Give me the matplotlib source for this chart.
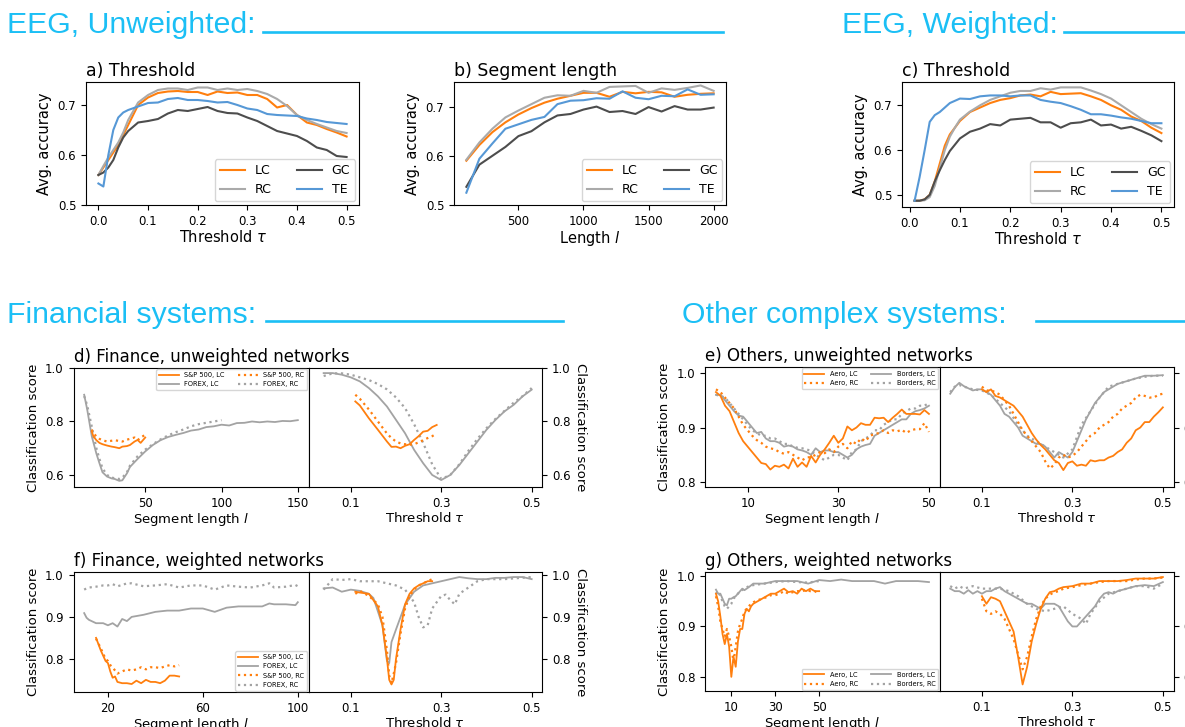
import matplotlib
matplotlib.use('Agg')
import matplotlib.pyplot as plt
from matplotlib.lines import Line2D

# ---------------- data: EEG ----------------
tau_a = [0, .01, .02, .03, .04, .05, .06, .08, .10, .12, .14, .16, .18, .20, .22, .24,
         .26, .28, .30, .32, .34, .36, .38, .40, .42, .44, .46, .48, .50]
a_lc = [.560, .575, .590, .605, .620, .640, .660, .700, .715, .724, .727, .728, .726, .726, .720,
        .727, .724, .725, .720, .720, .712, .695, .700, .680, .665, .660, .652, .645, .637]
a_rc = [.560, .578, .595, .610, .625, .645, .670, .705, .720, .730, .733, .733, .730, .735, .735,
        .730, .733, .730, .732, .728, .722, .712, .698, .680, .670, .662, .655, .648, .644]
a_gc = [.560, .565, .575, .590, .615, .635, .648, .665, .668, .672, .683, .690, .688, .692, .696,
        .688, .684, .683, .675, .668, .658, .648, .643, .638, .628, .615, .610, .598, .596]
a_te = [.543, .537, .600, .650, .675, .685, .690, .697, .704, .705, .712, .714, .710, .710, .708,
        .705, .706, .700, .693, .690, .682, .680, .679, .678, .673, .670, .666, .664, .662]

len_b = [100, 200, 300, 400, 500, 600, 700, 800, 900, 1000, 1100, 1200, 1300, 1400, 1500,
         1600, 1700, 1800, 1900, 2000]
b_lc = [.590, .622, .648, .668, .684, .697, .708, .716, .722, .728, .728, .720, .730, .727, .730,
        .729, .720, .724, .726, .727]
b_rc = [.592, .627, .655, .678, .692, .705, .718, .723, .722, .732, .728, .740, .741, .742, .728,
        .737, .734, .738, .743, .732]
b_gc = [.537, .582, .600, .618, .640, .650, .668, .682, .685, .694, .700, .689, .691, .685, .699,
        .690, .701, .694, .694, .698]
b_te = [.525, .594, .625, .655, .664, .673, .679, .705, .712, .713, .717, .716, .731, .718, .715,
        .722, .721, .735, .724, .725]

tau_c = [.01, .02, .03, .04, .05, .06, .07, .08, .09, .10, .12, .14, .16, .18, .20, .22, .24,
         .26, .28, .30, .32, .34, .36, .38, .40, .42, .44, .46, .48, .50]
c_lc = [.487, .487, .490, .500, .530, .570, .610, .635, .650, .665, .685, .695, .705, .712, .716,
        .722, .724, .720, .730, .725, .726, .727, .720, .712, .700, .690, .675, .665, .650, .638]
c_rc = [.487, .487, .488, .495, .520, .560, .600, .630, .650, .668, .686, .700, .712, .720, .728,
        .732, .732, .738, .735, .740, .740, .740, .733, .725, .715, .700, .685, .670, .658, .648]
c_gc = [.487, .487, .490, .500, .530, .555, .578, .598, .612, .626, .641, .648, .658, .655, .668,
        .670, .672, .662, .662, .650, .660, .662, .668, .655, .657, .648, .652, .643, .633, .620]
c_te = [.487, .540, .600, .663, .678, .685, .695, .705, .710, .715, .714, .720, .722, .722, .720,
        .722, .722, .712, .708, .705, .698, .690, .680, .680, .677, .673, .670, .665, .660, .660]

# ---------------- data: finance ----------------
d_len_fx = [10, 12, 15, 18, 20, 22, 25, 28, 30, 33, 35, 38, 40, 45, 50, 55, 60, 65, 70, 75, 80,
            85, 90, 95, 100, 105, 110, 115, 120, 125, 130, 135, 140, 145, 150]
d_fx_lc = [.900, .844, .744, .680, .644, .610, .594, .587, .585, .578, .580, .606, .630, .660, .688,
           .712, .730, .742, .750, .757, .766, .770, .779, .782, .788, .785, .794, .795, .800, .797,
           .800, .798, .802, .801, .805]
d_len_fx_rc = [10, 12, 15, 18, 20, 22, 25, 28, 30, 33, 35, 38, 40, 45, 50, 55, 60, 65, 70, 75, 80,
               85, 90, 95, 100]
d_fx_rc = [.895, .860, .780, .700, .660, .625, .600, .590, .588, .585, .590, .610, .635, .670, .695,
           .715, .733, .748, .760, .770, .782, .790, .795, .800, .805]
d_len_sp = [15, 16, 18, 20, 22, 25, 28, 30, 33, 35, 38, 40, 43, 45, 47, 50]
d_sp_lc = [.762, .745, .730, .720, .715, .710, .706, .704, .700, .706, .708, .712, .725, .731, .720, .740]
d_sp_rc = [.770, .755, .745, .735, .730, .725, .728, .730, .727, .725, .732, .735, .740, .730, .740, .750]

d_tau_fx = [.04, .06, .08, .10, .12, .14, .16, .18, .20, .22, .24, .26, .28, .30, .32, .34, .36,
            .38, .40, .42, .44, .46, .48, .50]
d_fx_tlc = [.981, .981, .975, .965, .950, .925, .894, .856, .806, .756, .694, .644, .600, .581, .600,
            .637, .681, .725, .769, .806, .838, .862, .894, .919]
d_fx_trc = [.970, .980, .980, .975, .965, .955, .940, .920, .890, .850, .790, .720, .640, .585, .600,
            .640, .690, .735, .775, .810, .840, .870, .895, .925]
d_tau_sp = [.11, .12, .14, .16, .18, .19, .20, .21, .22, .23, .24, .25, .26, .27, .28, .29]
d_sp_tlc = [.875, .860, .812, .769, .725, .705, .706, .700, .709, .715, .731, .745, .762, .765, .779, .787]
d_sp_trc = [.900, .885, .845, .800, .755, .738, .725, .718, .715, .713, .715, .722, .730, .738, .745, .755]

f_len_fx = [10, 11, 12, 15, 18, 20, 22, 24, 26, 28, 30, 35, 40, 45, 50, 55, 60, 65, 70, 75, 80,
            85, 88, 90, 95, 99, 100]
f_fx_lc = [.909, .898, .893, .885, .885, .880, .885, .877, .895, .890, .900, .905, .912, .915, .915,
           .920, .920, .912, .922, .925, .925, .925, .932, .930, .930, .928, .935]
f_fx_rc = [.965, .968, .970, .972, .975, .975, .978, .973, .976, .980, .980, .973, .975, .978, .970,
           .975, .975, .965, .975, .972, .970, .975, .980, .970, .972, .976, .973]
f_len_sp = [15, 17, 19, 20, 21, 22, 23, 24, 26, 28, 30, 32, 34, 36, 38, 40, 42, 44, 46, 48, 50]
f_sp_lc = [.850, .820, .795, .790, .770, .755, .758, .745, .742, .742, .740, .748, .742, .750, .745,
           .745, .742, .748, .760, .760, .758]
f_sp_rc = [.848, .825, .800, .795, .785, .780, .772, .765, .770, .775, .772, .775, .780, .775, .780,
           .780, .778, .782, .785, .782, .785]

f_tau_fx = [.04, .06, .08, .10, .12, .14, .15, .16, .17, .18, .185, .19, .20, .22, .24, .26, .28,
            .30, .32, .34, .36, .38, .40, .42, .44, .46, .48, .50]
f_fx_tlc = [.968, .970, .960, .965, .962, .955, .945, .913, .880, .795, .790, .840, .870, .929, .960,
            .975, .980, .985, .990, .995, .992, .990, .990, .993, .993, .995, .995, .990]
f_tau_fx_rc = [.04, .06, .08, .10, .12, .14, .16, .18, .20, .22, .24, .25, .26, .27, .28, .30, .31,
               .32, .33, .34, .36, .38, .40, .44, .50]
f_fx_trc = [.965, .990, .988, .990, .985, .985, .985, .980, .975, .965, .935, .900, .875, .880, .920,
            .950, .953, .940, .930, .955, .970, .985, .990, .990, .995]
f_tau_sp = [.11, .12, .14, .15, .16, .17, .18, .185, .19, .195, .20, .21, .22, .23, .24, .25, .26,
            .27, .28]
f_sp_tlc = [.960, .958, .955, .940, .925, .880, .800, .750, .739, .750, .800, .870, .930, .955, .968,
            .975, .980, .985, .985]
f_sp_trc = [.955, .962, .950, .940, .930, .900, .820, .760, .742, .765, .790, .860, .920, .950, .965,
            .975, .980, .985, .990]

# ---------------- data: other systems ----------------
e_len = list(range(3, 51))
e_aero_lc = [.965, .958, .940, .930, .910, .890, .875, .865, .855, .845, .835, .833, .823, .830, .828,
             .832, .825, .843, .828, .836, .828, .848, .836, .850, .860, .872, .885, .872, .880, .902,
             .895, .900, .908, .905, .905, .918, .917, .918, .910, .918, .925, .933, .925, .925, .925,
             .924, .932, .925]
e_aero_rc = [.970, .965, .955, .945, .935, .920, .905, .895, .885, .877, .872, .865, .862, .860, .855,
             .852, .855, .850, .845, .840, .845, .846, .850, .855, .853, .860, .855, .865, .870, .862,
             .875, .870, .880, .875, .885, .888, .890, .895, .890, .895, .893, .896, .890, .895, .897,
             .897, .908, .892]
e_bord_lc = [.960, .960, .950, .940, .930, .922, .920, .910, .900, .890, .892, .880, .875, .875, .872,
             .865, .867, .865, .860, .858, .855, .850, .862, .855, .858, .858, .855, .855, .850, .845,
             .850, .860, .865, .868, .870, .885, .890, .895, .900, .905, .910, .915, .915, .925, .930,
             .932, .935, .940]
e_bord_rc = [.960, .958, .955, .945, .935, .925, .915, .905, .895, .890, .885, .885, .880, .880, .875,
             .870, .870, .865, .863, .862, .860, .857, .850, .845, .840, .845, .850, .850, .845, .840,
             .855, .860, .875, .880, .885, .895, .895, .905, .910, .915, .915, .925, .930, .935, .935,
             .940, .940, .945]

e_tau_b = [.03, .04, .05, .06, .07, .08, .09, .10, .11, .12, .13, .14, .15, .16, .17, .18, .19, .20,
           .21, .22, .23, .24, .25, .26, .27, .28, .29, .30, .31, .32, .33, .34, .35, .36, .37, .38,
           .39, .40, .42, .44, .46, .48, .50]
e_bord_tlc = [.962, .974, .982, .976, .972, .968, .970, .970, .965, .960, .950, .940, .925, .920, .910,
              .900, .885, .880, .875, .870, .870, .865, .855, .845, .855, .850, .845, .855, .875, .895,
              .915, .930, .945, .955, .965, .970, .975, .980, .985, .990, .995, .995, .996]
e_tau_brc = [.03, .04, .05, .06, .08, .10, .12, .14, .16, .18, .20, .22, .24, .26, .28, .30, .32, .34,
             .36, .38, .40, .42, .44, .46, .48, .50]
e_bord_trc = [.965, .975, .978, .975, .970, .968, .960, .945, .930, .905, .885, .875, .865, .855, .845,
              .860, .905, .930, .955, .975, .980, .985, .990, .993, .995, .995]
e_tau_a = [.10, .11, .12, .13, .14, .15, .16, .17, .18, .19, .20, .21, .22, .23, .24, .25, .26, .27,
           .28, .29, .30, .31, .32, .33, .34, .35, .36, .37, .38, .39, .40, .41, .42, .43, .44, .45,
           .46, .47, .48, .49, .50]
e_aero_tlc = [.970, .965, .970, .958, .955, .950, .945, .940, .930, .920, .905, .890, .878, .868, .860,
              .850, .840, .835, .822, .835, .838, .830, .832, .830, .840, .838, .840, .840, .845, .848,
              .855, .860, .872, .880, .895, .900, .910, .910, .920, .928, .937]
e_aero_trc = [.975, .968, .968, .965, .960, .950, .940, .925, .910, .895, .885, .875, .865, .855, .838,
              .825, .832, .845, .850, .845, .848, .855, .865, .875, .885, .890, .900, .905, .910, .920,
              .925, .935, .940, .945, .955, .960, .958, .955, .955, .960, .962]

g_len_b = [3, 4, 5, 6, 7, 8, 9, 10, 11, 12, 13, 14, 15, 16, 18, 20, 22, 25, 28, 30, 35, 40, 45, 50,
           55, 60, 65, 70, 75, 80, 85, 90, 95, 100]
g_bord_lc = [.973, .965, .965, .955, .945, .942, .955, .955, .958, .960, .965, .970, .975, .972, .978,
             .985, .985, .985, .988, .990, .990, .990, .985, .992, .990, .993, .990, .990, .990, .985,
             .990, .990, .990, .988]
g_len_brc = [3, 4, 5, 6, 7, 8, 9, 10, 11, 12, 13, 14, 16, 18, 20, 25, 30, 35, 40, 45, 50]
g_bord_rc = [.965, .970, .960, .950, .940, .935, .940, .945, .955, .960, .965, .970, .975, .980, .982,
             .985, .988, .990, .988, .987, .990]
g_len_a = [3, 4, 5, 6, 7, 8, 9, 10, 11, 12, 13, 14, 15, 16, 17, 18, 19, 20, 22, 24, 26, 28, 30, 32,
           34, 36, 38, 40, 42, 44, 46, 48, 50]
g_aero_lc = [.965, .950, .920, .885, .865, .885, .860, .800, .840, .820, .870, .895, .895, .925, .935,
             .930, .940, .945, .950, .955, .960, .965, .965, .970, .975, .968, .970, .965, .975, .970,
             .975, .970, .970]
g_aero_rc = [.960, .940, .910, .895, .880, .895, .880, .860, .830, .860, .890, .905, .915, .930, .935,
             .940, .945, .948, .952, .955, .958, .962, .962, .965, .970, .965, .968, .970, .970, .972,
             .970, .970, .965]

g_tau_b = [.03, .04, .05, .06, .07, .08, .09, .10, .11, .12, .13, .14, .15, .16, .17, .18, .19, .20,
           .21, .22, .23, .24, .25, .26, .27, .28, .29, .30, .31, .32, .33, .34, .35, .36, .37, .38,
           .39, .40, .42, .44, .46, .48, .50]
g_bord_tlc = [.975, .970, .970, .965, .972, .965, .970, .965, .970, .970, .975, .978, .970, .965, .960,
              .955, .950, .945, .945, .940, .935, .945, .945, .945, .940, .925, .910, .900, .900, .910,
              .920, .930, .940, .955, .965, .968, .965, .970, .975, .980, .982, .980, .988]
g_tau_brc = [.03, .04, .05, .06, .08, .10, .12, .14, .16, .18, .20, .22, .24, .26, .28, .30, .32, .33,
             .34, .36, .38, .40, .42, .44, .46, .48, .50]
g_bord_trc = [.980, .975, .980, .975, .980, .975, .975, .975, .970, .960, .945, .935, .930, .935, .940,
              .925, .915, .905, .925, .950, .965, .970, .975, .980, .980, .975, .985]
g_tau_a = [.10, .11, .12, .13, .14, .15, .16, .17, .18, .19, .20, .21, .22, .23, .24, .25, .26, .27,
           .28, .30, .32, .34, .36, .38, .40, .42, .44, .46, .48, .50]
g_aero_tlc = [.960, .945, .958, .955, .950, .930, .910, .890, .840, .785, .820, .870, .905, .935, .955,
              .968, .970, .975, .978, .980, .985, .985, .990, .990, .990, .992, .995, .995, .995, .998]
g_aero_trc = [.955, .930, .925, .930, .925, .915, .895, .875, .845, .815, .840, .880, .915, .940, .955,
              .963, .968, .970, .975, .978, .982, .985, .988, .990, .990, .990, .993, .995, .995, .997]

# ---------------- styles ----------------
CYAN = '#1bbff5'
ORANGE = '#ff7f0e'
LGRAY = '#aaaaaa'
DGRAY = '#4d4d4d'
BLUE = '#5698d6'
GRAY = '#a3a3a3'

W, H = 1185, 727
fig = plt.figure(figsize=(W / 100, H / 100), dpi=100)


def box(x0, y0, x1, y1):
    return [x0 / W, 1 - y1 / H, (x1 - x0) / W, (y1 - y0) / H]


def header(tx, ty, text, lx0, lx1, ly):
    fig.text(tx / W, 1 - ty / H, text, color=CYAN, fontsize=21.8,
             family='Liberation Sans', va='baseline')
    fig.add_artist(Line2D([lx0 / W, lx1 / W], [1 - ly / H, 1 - ly / H], color=CYAN, lw=1.9))


header(7, 33, 'EEG, Unweighted:', 263, 723, 32)
header(842, 33, 'EEG, Weighted:', 1064, 1200, 32)
header(7, 323, 'Financial systems:', 266, 563, 321)
header(682, 323, 'Other complex systems:', 1036, 1200, 321)


def eeg_panel(pos, title, x, lc, rc, gc, te, xlim, ylim, xticks, xlabel):
    ax = fig.add_axes(pos)
    ax.plot(x, lc, color=ORANGE, lw=1.5, label='LC')
    ax.plot(x, rc, color=LGRAY, lw=1.5, label='RC')
    ax.plot(x, gc, color=DGRAY, lw=1.5, label='GC')
    ax.plot(x, te, color=BLUE, lw=1.5, label='TE')
    ax.set_xlim(xlim)
    ax.set_ylim(ylim)
    ax.set_xticks(xticks)
    ax.set_yticks([0.5, 0.6, 0.7])
    ax.tick_params(labelsize=8.5)
    ax.set_title(title, loc='left', fontsize=12.5, pad=4)
    ax.set_xlabel(xlabel, fontsize=10.5, labelpad=1)
    ax.set_ylabel('Avg. accuracy', fontsize=10.5)
    ax.legend(ncol=2, loc='lower right', fontsize=9, borderaxespad=0.3)
    return ax


eeg_panel(box(86, 82, 359, 205), 'a) Threshold', tau_a, a_lc, a_rc, a_gc, a_te,
          (-0.025, 0.525), (0.5, 0.746), [0, .1, .2, .3, .4, .5], r'Threshold $\tau$')
eeg_panel(box(454, 82, 726, 205), 'b) Segment length', len_b, b_lc, b_rc, b_gc, b_te,
          (5, 2095), (0.5, 0.75), [500, 1000, 1500, 2000], r'Length $l$')
eeg_panel(box(902, 82, 1174, 207), 'c) Threshold', tau_c, c_lc, c_rc, c_gc, c_te,
          (-0.015, 0.525), (0.473, 0.752), [0, .1, .2, .3, .4, .5], r'Threshold $\tau$')


def pair(x0, xm, x1, y0, y1, title, ylim, yticks, xlim_l, xticks_l):
    axl = fig.add_axes(box(x0, y0, xm, y1))
    axr = fig.add_axes(box(xm, y0, x1, y1))
    for ax in (axl, axr):
        ax.set_ylim(ylim)
        ax.set_yticks(yticks)
        ax.tick_params(labelsize=8.5)
    axl.set_xlim(xlim_l)
    axl.set_xticks(xticks_l)
    axr.set_xlim(0.0065, 0.5235)
    axr.set_xticks([0.1, 0.3, 0.5])
    axr.yaxis.tick_right()
    axr.yaxis.set_label_position('right')
    axl.set_title(title, loc='left', fontsize=12, pad=4)
    axl.set_xlabel(r'Segment length $l$', fontsize=9.5, labelpad=1)
    axr.set_xlabel(r'Threshold $\tau$', fontsize=9.5, labelpad=1)
    axl.set_ylabel('Classification score', fontsize=9.5)
    axr.set_ylabel('Classification score', fontsize=9.5, rotation=270, labelpad=12)
    return axl, axr


def lower_legend(ax, order, **kw):
    h, l = ax.get_legend_handles_labels()
    idx = [l.index(o) for o in order]
    ax.legend([h[i] for i in idx], [l[i] for i in idx], fontsize=4.8, handlelength=3,
              borderaxespad=0.2, **kw)


LW = 1.3
# d) Finance, unweighted
dl, dr = pair(73.5, 308.5, 542.3, 368, 487, 'd) Finance, unweighted networks',
              (0.555, 1.0), [0.6, 0.8, 1.0], (3, 157), [50, 100, 150])
dl.plot(d_len_fx, d_fx_lc, color=GRAY, lw=LW, label='FOREX, LC')
dl.plot(d_len_fx_rc, d_fx_rc, color=GRAY, lw=LW + .3, ls=':', label='FOREX, RC')
dl.plot(d_len_sp, d_sp_lc, color=ORANGE, lw=LW, label='S&P 500, LC')
dl.plot(d_len_sp, d_sp_rc, color=ORANGE, lw=LW + .3, ls=':', label='S&P 500, RC')
dr.plot(d_tau_fx, d_fx_tlc, color=GRAY, lw=LW)
dr.plot(d_tau_fx, d_fx_trc, color=GRAY, lw=LW + .3, ls=':')
dr.plot(d_tau_sp, d_sp_tlc, color=ORANGE, lw=LW)
dr.plot(d_tau_sp, d_sp_trc, color=ORANGE, lw=LW + .3, ls=':')
lower_legend(dl, ['S&P 500, LC', 'FOREX, LC', 'S&P 500, RC', 'FOREX, RC'], ncol=2, loc='upper right')

# f) Finance, weighted
fl, fr = pair(73.5, 308.5, 542.3, 572, 692, 'f) Finance, weighted networks',
              (0.721, 1.007), [0.8, 0.9, 1.0], (5.5, 104.5), [20, 60, 100])
fl.plot(f_len_fx, f_fx_lc, color=GRAY, lw=LW, label='FOREX, LC')
fl.plot(f_len_fx, f_fx_rc, color=GRAY, lw=LW + .3, ls=':', label='FOREX, RC')
fl.plot(f_len_sp, f_sp_lc, color=ORANGE, lw=LW, label='S&P 500, LC')
fl.plot(f_len_sp, f_sp_rc, color=ORANGE, lw=LW + .3, ls=':', label='S&P 500, RC')
fr.plot(f_tau_fx, f_fx_tlc, color=GRAY, lw=LW)
fr.plot(f_tau_fx_rc, f_fx_trc, color=GRAY, lw=LW + .3, ls=':')
fr.plot(f_tau_sp, f_sp_tlc, color=ORANGE, lw=LW)
fr.plot(f_tau_sp, f_sp_trc, color=ORANGE, lw=LW + .3, ls=':')
lower_legend(fl, ['S&P 500, LC', 'FOREX, LC', 'S&P 500, RC', 'FOREX, RC'], ncol=1, loc='lower right')

# e) Others, unweighted
el, er = pair(705.3, 939.6, 1173.5, 367, 487, 'e) Others, unweighted networks',
              (0.791, 1.011), [0.8, 0.9, 1.0], (0.65, 52.35), [10, 30, 50])
el.plot(e_len, e_bord_lc, color=GRAY, lw=LW, label='Borders, LC')
el.plot(e_len, e_bord_rc, color=GRAY, lw=LW + .3, ls=':', label='Borders, RC')
el.plot(e_len, e_aero_lc, color=ORANGE, lw=LW, label='Aero, LC')
el.plot(e_len, e_aero_rc, color=ORANGE, lw=LW + .3, ls=':', label='Aero, RC')
er.plot(e_tau_b, e_bord_tlc, color=GRAY, lw=LW)
er.plot(e_tau_brc, e_bord_trc, color=GRAY, lw=LW + .3, ls=':')
er.plot(e_tau_a, e_aero_tlc, color=ORANGE, lw=LW)
er.plot(e_tau_a, e_aero_trc, color=ORANGE, lw=LW + .3, ls=':')
lower_legend(el, ['Aero, LC', 'Aero, RC', 'Borders, LC', 'Borders, RC'], ncol=2, loc='upper right')

# g) Others, weighted
gl, gr = pair(705.3, 939.6, 1173.5, 572, 691, 'g) Others, weighted networks',
              (0.772, 1.008), [0.8, 0.9, 1.0], (-1.85, 104.85), [10, 30, 50])
gl.plot(g_len_b, g_bord_lc, color=GRAY, lw=LW, label='Borders, LC')
gl.plot(g_len_brc, g_bord_rc, color=GRAY, lw=LW + .3, ls=':', label='Borders, RC')
gl.plot(g_len_a, g_aero_lc, color=ORANGE, lw=LW, label='Aero, LC')
gl.plot(g_len_a, g_aero_rc, color=ORANGE, lw=LW + .3, ls=':', label='Aero, RC')
gr.plot(g_tau_b, g_bord_tlc, color=GRAY, lw=LW)
gr.plot(g_tau_brc, g_bord_trc, color=GRAY, lw=LW + .3, ls=':')
gr.plot(g_tau_a, g_aero_tlc, color=ORANGE, lw=LW)
gr.plot(g_tau_a, g_aero_trc, color=ORANGE, lw=LW + .3, ls=':')
lower_legend(gl, ['Aero, LC', 'Aero, RC', 'Borders, LC', 'Borders, RC'], ncol=2, loc='lower right')

fig.savefig('out.png', dpi=100)
